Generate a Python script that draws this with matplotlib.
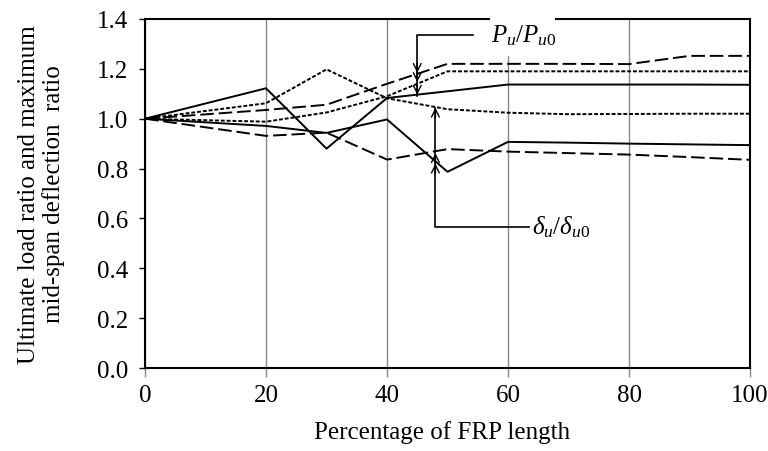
# Ultimate load ratio and mid-span deflection ratio vs. FRP length
import matplotlib
matplotlib.use('Agg')
import matplotlib.pyplot as plt
from matplotlib.patches import Rectangle

plt.rcParams['font.family'] = ['Liberation Serif', 'DejaVu Serif']
plt.rcParams['mathtext.fontset'] = 'custom'
plt.rcParams['mathtext.rm'] = 'Liberation Serif'
plt.rcParams['mathtext.it'] = 'Liberation Serif:italic'

# percentage of FRP length
frp_pct = [0, 20, 30, 40, 50, 60, 70, 80, 90, 100]

# ultimate load ratio Pu/Pu0
load_solid = [1.0, 1.122, 0.88, 1.083, 1.11, 1.137, 1.137, 1.137, 1.137, 1.136]
load_short = [1.0, 0.988, 1.025, 1.09, 1.19, 1.19, 1.19, 1.19, 1.19, 1.19]
load_long = [1.0, 1.035, 1.056, 1.14, 1.22, 1.22, 1.22, 1.219, 1.252, 1.252]

# mid-span deflection ratio du/du0
defl_short = [1.0, 1.062, 1.198, 1.082, 1.038, 1.024, 1.018, 1.019, 1.02, 1.02]
defl_solid = [1.0, 0.971, 0.943, 0.997, 0.787, 0.907, 0.904, 0.90, 0.897, 0.894]
defl_long = [1.0, 0.931, 0.944, 0.836, 0.878, 0.868, 0.862, 0.856, 0.846, 0.835]

# arrow targets of the two brackets
load_marks = [1.184, 1.147, 1.096]
defl_marks = [1.044, 0.862, 0.82]

fig = plt.figure(figsize=(7.68, 4.52), dpi=100)
ax = fig.add_axes([0.1888, 0.1836, 0.7878, 0.7722])

short = (2.0, 1.0)
long_ = (7.0, 2.5)
lw = 1.4
ax.plot(frp_pct, load_solid, color='black', lw=lw)
ax.plot(frp_pct, load_short, color='black', lw=lw, dashes=short)
ax.plot(frp_pct, load_long, color='black', lw=lw, dashes=long_)
ax.plot(frp_pct, defl_short, color='black', lw=lw, dashes=short)
ax.plot(frp_pct, defl_solid, color='black', lw=lw)
ax.plot(frp_pct, defl_long, color='black', lw=lw, dashes=long_)

ax.set_xlim(0, 100)
ax.set_ylim(0, 1.4)
ax.set_xticks([0, 20, 40, 60, 80, 100])
ax.set_yticks([0, 0.2, 0.4, 0.6, 0.8, 1.0, 1.2, 1.4])
ax.set_yticklabels(['0.0', '0.2', '0.4', '0.6', '0.8', '1.0', '1.2', '1.4'])
ax.tick_params(axis='y', direction='out', length=4, width=1, pad=8, labelsize=18)
ax.tick_params(axis='x', direction='out', length=6.5, width=1, pad=5, labelsize=18,
               color='#888888')
ax.xaxis.grid(True, color='#888888', lw=1)
ax.set_axisbelow(True)
for s in ax.spines.values():
    s.set_linewidth(1.5)

ax.set_xlabel('Percentage of FRP length', fontsize=18, va='top')
ax.xaxis.set_label_coords(0.491, -0.148)
ax.set_ylabel('Ultimate load ratio and maximum\nmid-span deflection  ratio',
              fontsize=18, linespacing=1.1)
ax.yaxis.set_label_coords(-0.132, 0.5)

# load ratio bracket
xp = 45
ax.plot([xp, xp, 54.2], [load_marks[-1] - 0.004, 1.336, 1.336], color='black', lw=1.2,
        clip_on=False)
for m in load_marks:
    ax.annotate('', xy=(xp, m), xytext=(xp, m + 0.04),
                arrowprops=dict(arrowstyle='->', lw=1.0, color='black',
                                shrinkA=0, shrinkB=0, mutation_scale=14))
ax.add_patch(Rectangle((57.0, 1.252), 10.8, 0.16, facecolor='white', edgecolor='none',
                       clip_on=False, zorder=4))
ax.text(57.2, 1.336, r'$P_u/P_{u0}$', fontsize=18, va='center', ha='left', zorder=5)

# deflection ratio bracket
xd = 48
ax.plot([xd, xd, 63.5], [defl_marks[0], 0.567, 0.567], color='black', lw=1.2)
for m in defl_marks:
    ax.annotate('', xy=(xd, m), xytext=(xd, m - 0.04),
                arrowprops=dict(arrowstyle='->', lw=1.0, color='black',
                                shrinkA=0, shrinkB=0, mutation_scale=14))
ax.text(64.0, 0.567, r'$\delta_u/\delta_{u0}$', fontsize=18, va='center', ha='left')

plt.savefig('out.png', dpi=100)
